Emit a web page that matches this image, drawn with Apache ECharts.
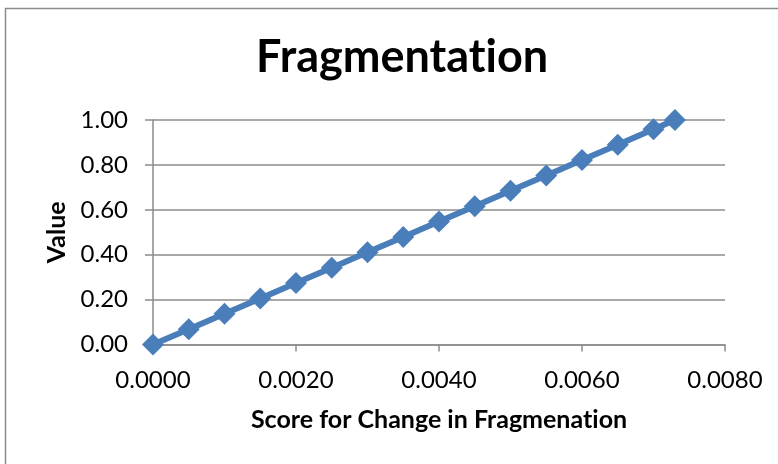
<!DOCTYPE html>
<html>
<head>
<meta charset="utf-8">
<script src="https://cdn.jsdelivr.net/npm/echarts@6/dist/echarts.min.js"></script>
<style>
  html, body { margin: 0; padding: 0; background: #ffffff; }
  #chart { width: 778px; height: 464px; }
</style>
</head>
<body>
<div id="chart"></div>
<script>
// Score for change in fragmentation (x) against normalised value (y)
var scores = [0.0000, 0.0005, 0.0010, 0.0015, 0.0020, 0.0025, 0.0030, 0.0035,
              0.0040, 0.0045, 0.0050, 0.0055, 0.0060, 0.0065, 0.0070, 0.0073];
var values = [0.000, 0.068, 0.137, 0.205, 0.274, 0.342, 0.411, 0.479,
              0.548, 0.616, 0.685, 0.753, 0.822, 0.890, 0.959, 1.000];

// zero-width non-joiner keeps "t" and "i" as separate glyphs
var titleText = 'Fragmentat\u200Cion';
var xName = 'Score for Change in Fragmenat\u200Cion';
var yName = 'Value';

var points = scores.map(function (s, i) { return [s, values[i]]; });

var font = 'Lato, "Noto Sans", sans-serif';
var chart = echarts.init(document.getElementById('chart'), null, { renderer: 'canvas' });

chart.setOption({
  animation: false,
  backgroundColor: '#ffffff',
  graphic: [{
    type: 'rect',
    shape: { x: 5.5, y: 8.5, width: 900, height: 600 },
    style: { fill: 'none', stroke: '#8c8c8c', lineWidth: 1.5 },
    silent: true
  }],
  title: {
    text: titleText,
    left: 251,
    top: 30,
    textStyle: { fontFamily: font, fontSize: 45, fontWeight: 'bold', color: '#000000' }
  },
  grid: { left: 153, right: 53, top: 120, bottom: 119.5, containLabel: false },
  xAxis: {
    type: 'value',
    min: 0, max: 0.008, interval: 0.002,
    name: xName,
    nameLocation: 'middle',
    nameGap: 63,
    nameTextStyle: { fontFamily: font, fontSize: 25, fontWeight: 'bold', color: '#000000' },
    axisLine: { show: true, lineStyle: { color: '#8c8c8c', width: 1.5 } },
    axisTick: { show: true, length: 7, lineStyle: { color: '#8c8c8c', width: 1.5 } },
    axisLabel: {
      fontFamily: font, fontSize: 24, color: '#000000', margin: 24,
      formatter: function (v) { return v.toFixed(4); }
    },
    splitLine: { show: false }
  },
  yAxis: {
    type: 'value',
    min: 0, max: 1, interval: 0.2,
    name: yName,
    nameLocation: 'middle',
    nameGap: 80,
    nameRotate: 90,
    nameTextStyle: { fontFamily: font, fontSize: 25, fontWeight: 'bold', color: '#000000' },
    axisLine: { show: true, lineStyle: { color: '#8c8c8c', width: 1.5 } },
    axisTick: { show: true, length: 8, lineStyle: { color: '#8c8c8c', width: 1.5 } },
    axisLabel: {
      fontFamily: font, fontSize: 24, color: '#000000', margin: 25,
      formatter: function (v) { return v.toFixed(2); }
    },
    splitLine: { show: true, lineStyle: { color: '#8c8c8c', width: 1.5 } }
  },
  series: [{
    type: 'line',
    data: points,
    symbol: 'diamond',
    symbolSize: 22,
    showAllSymbol: true,
    lineStyle: { color: '#4a7ebb', width: 6 },
    itemStyle: { color: '#4a7ebb', borderWidth: 0 },
    clip: false
  }]
});
</script>
</body>
</html>
